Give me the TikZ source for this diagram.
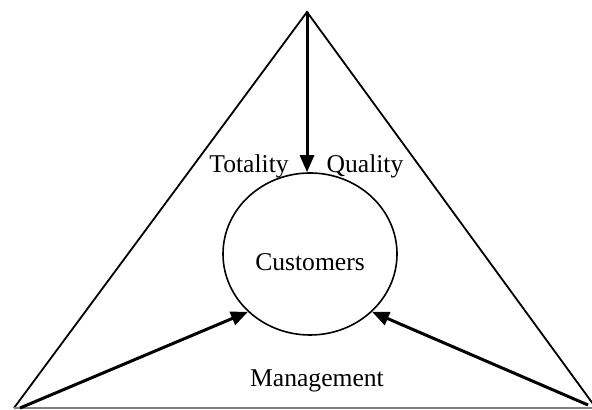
\documentclass[tikz,border=0pt]{standalone}
\usepackage{fontspec}
\setmainfont{Liberation Serif}
\usetikzlibrary{arrows.meta,shapes.geometric}
\begin{document}
\begin{tikzpicture}[%
	x=0.5pt, y=0.5pt,
	>={Triangle[length=8.5pt,width=7pt]},
	font=\fontsize{12.8}{15}\selectfont,
	side/.style={draw,line width=0.9pt},
	base/.style={draw,line width=0.8pt,gray},
	circ/.style={draw,ellipse,line width=0.8pt,minimum width=87pt,minimum height=81pt,inner sep=0pt},
	dick0/.style={draw,line width=1.5pt},
	dick/.style={dick0,->}
]
\useasboundingbox (0,0) rectangle (592,410);

\coordinate (top) at (307,398);
\coordinate (bl) at (14,2);
\coordinate (br) at (596,2);
\coordinate (la) at (20,2);
\coordinate (ra) at (588,5);

\node[circ,label={[yshift=-4pt]center:Customers}] (cust) at (310,156) {};

\node (tot)  at (249,244) {Totality};
\node (qual) at (365,244) {Quality};
\node (man)  at (317,29) {Management};

\path[side] (bl) -- (top) -- (br);
\path[base] (bl) -- (br);

\path[dick] (top) -- (top |- cust.north);
\path[dick] (la) -- (cust.223);
\path[dick] (ra) -- (cust.317);

\end{tikzpicture}
\end{document}
